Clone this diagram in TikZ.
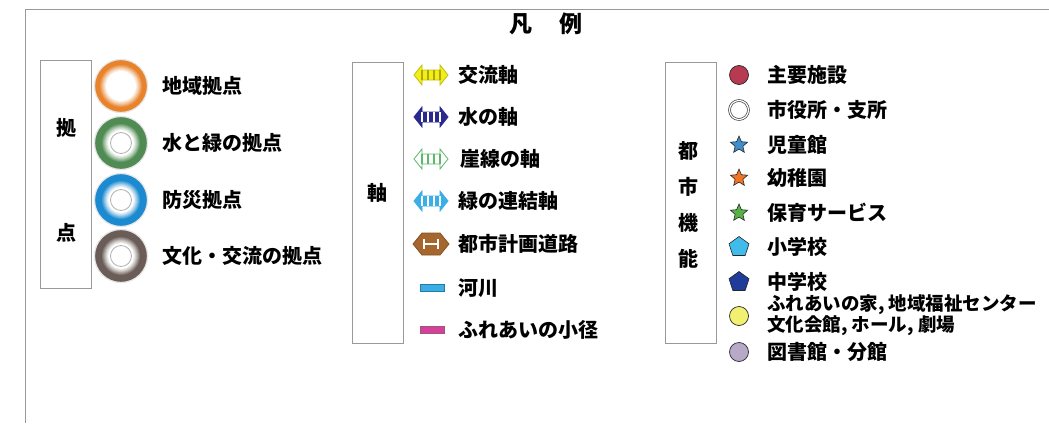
\documentclass[tikz,border=0pt]{standalone}
\usepackage{fontspec}
\newfontfamily\jp{Noto Sans CJK JP}
\usetikzlibrary{shapes.geometric}
\newcommand{\lblfont}{\jp\bfseries\fontsize{20}{22}\selectfont}
\newcommand{\smallfont}{\jp\bfseries\fontsize{18.5}{19}\selectfont}
\definecolor{ringorange}{HTML}{E8832C}
\definecolor{ringgreen}{HTML}{4F8B52}
\definecolor{ringblue}{HTML}{1C8AD0}
\definecolor{ringbrown}{HTML}{6A5C56}
\definecolor{axyellow}{HTML}{F2EE1A}
\definecolor{axnavy}{HTML}{2A2A8E}
\definecolor{axgreen}{HTML}{5CB86A}
\definecolor{axsky}{HTML}{3AAEE6}
\definecolor{axbrown}{HTML}{A5672E}
\definecolor{fnmaroon}{HTML}{B83A50}
\definecolor{fnblue}{HTML}{3C8ECC}
\definecolor{fnorange}{HTML}{F07424}
\definecolor{fngreen}{HTML}{56B444}
\definecolor{fncyan}{HTML}{40BCEA}
\definecolor{fnnavy}{HTML}{1F3C98}
\definecolor{fnyellow}{HTML}{F2F070}
\definecolor{fnlilac}{HTML}{B9A9C9}
\tikzset{legbox/.style = {draw=gray!80, fill=white, line width=0.8pt, minimum width=51pt, anchor=north west, inner sep=0}}
\tikzset{vchar/.style = {font=\lblfont, inner sep=0}}
\tikzset{lbl/.style = {font=\lblfont, anchor=west, inner sep=0}}
\tikzset{core/.style = {circle, draw=gray!60, fill=white, line width=0.8pt, minimum size=21pt, inner sep=0}}
\tikzset{bar/.style = {rectangle, fill=#1, draw=#1!70!black, line width=0.4pt, minimum width=24pt, minimum height=7pt, inner sep=0}}
\tikzset{dot/.style = {circle, fill=#1, draw=gray!30!black, line width=0.7pt, minimum size=19pt, inner sep=0}}
\tikzset{starmark/.style = {star, star points=5, star point ratio=2.2, fill=#1, draw=gray!30!black, line width=0.6pt, minimum size=18pt, inner sep=0}}
\tikzset{pentmark/.style = {regular polygon, regular polygon sides=5, fill=#1, draw=gray!30!black, line width=0.6pt, minimum size=21pt, inner sep=0}}
\tikzset{pics/hubring/.style 2 args = {code = {
    \draw[fill=#1, draw=gray!20, line width=1.2pt] (0,0) circle[radius=26.5];
    \foreach \d/\p in {8/85, 7/70, 6/55, 5/40, 4/27, 3/14}
        \fill[#1!\p!white] (0,0) circle[radius={#2+\d}];
    \fill[white] (0,0) circle[radius={#2+2}];
}}}
\tikzset{pics/axarrow/.style n args = {3}{code = {
    \draw[draw=#1, fill=#2, line width=0.8pt] (-17,0) -- (-9,-10) -- (-9,-5) -- (9,-5) -- (9,-10) -- (17,0)
         -- (9,10) -- (9,5) -- (-9,5) -- (-9,10) -- cycle;
    \foreach \s in {-9,-3,3,9}
        \draw[#3, line width=1.3pt] (\s,-5) -- (\s,5);
}}}

\begin{document}
\begin{tikzpicture}[x=1pt, y=-1pt]
    \useasboundingbox (0,0) rectangle (1049,423);

    % Frame and title
    \draw[gray!80, line width=1pt] (1049,9) -- (25,9) -- (25,423);
    \node[font=\jp\bfseries\fontsize{23}{23}\selectfont] (title1) at (521,24) {凡};
    \node[font=\jp\bfseries\fontsize{23}{23}\selectfont] (title2) at (571,24) {例};

    % Hubs
    \node[legbox, minimum height=228pt] (hubbox) at (40,60) {};
    \node[vchar] (hubc1) at (66,128) {拠};
    \node[vchar] (hubc2) at (66,233) {点};

    \pic (ring1) at (121,86) {hubring={ringorange}{13}};
    \pic (ring2) at (121,143) {hubring={ringgreen}{11}};
    \node[core] (core2) at (121,143) {};
    \pic (ring3) at (121,200) {hubring={ringblue}{11}};
    \node[core] (core3) at (121,200) {};
    \pic (ring4) at (121,256) {hubring={ringbrown}{11}};
    \node[core] (core4) at (121,256) {};

    \node[lbl] (hub1) at (162,86) {地域拠点};
    \node[lbl] (hub2) at (162,143) {水と緑の拠点};
    \node[lbl] (hub3) at (162,200) {防災拠点};
    \node[lbl] (hub4) at (162,256) {文化・交流の拠点};

    % Axes
    \node[legbox, minimum height=281pt] (axbox) at (352,62) {};
    \node[vchar] (axc) at (377,193) {軸};

    \pic at (431,75) {axarrow={axyellow!80!black}{axyellow}{olive!70!yellow}};
    \pic at (431,117) {axarrow={axnavy}{axnavy}{white}};
    \pic at (431,159) {axarrow={axgreen}{white}{axgreen}};
    \pic at (431,201) {axarrow={axsky}{axsky}{white}};
    \draw[draw=axbrown!80!black, fill=axbrown, line width=0.8pt]
        (413,244) -- (422,233) -- (440,233) -- (449,244) -- (440,255) -- (422,255) -- cycle;
    \draw[white, line width=2pt] (424,239) -- (424,249) (438,239) -- (438,249) (424,244) -- (438,244);
    \node[bar=axsky] (river) at (432,288) {};
    \node[bar=magenta!70!gray] (trail) at (432,330) {};

    \node[lbl] (ax1) at (458,75) {交流軸};
    \node[lbl] (ax2) at (458,117) {水の軸};
    \node[lbl] (ax3) at (460,159) {崖線の軸};
    \node[lbl] (ax4) at (458,201) {緑の連結軸};
    \node[lbl] (ax5) at (458,244) {都市計画道路};
    \node[lbl] (ax6) at (458,288) {河川};
    \node[lbl] (ax7) at (458,330) {ふれあいの小径};

    % Urban functions
    \node[legbox, minimum height=281pt] (fnbox) at (665,62) {};
    \node[vchar] (fnc1) at (688,151) {都};
    \node[vchar] (fnc2) at (688,187) {市};
    \node[vchar] (fnc3) at (688,223) {機};
    \node[vchar] (fnc4) at (688,259) {能};

    \node[dot=fnmaroon] (m1) at (739,75) {};
    \node[circle, draw=gray!50!black, line width=0.7pt, minimum size=19pt, inner sep=0,
          double=white, double distance=1.2pt] (m2) at (739,110) {};
    \node[starmark=fnblue] (m3) at (739,145) {};
    \node[starmark=fnorange] (m4) at (739,178) {};
    \node[starmark=fngreen] (m5) at (739,213) {};
    \node[pentmark=fncyan] (m6) at (739,247) {};
    \node[pentmark=fnnavy] (m7) at (739,282) {};
    \node[dot=fnyellow] (m8) at (739,316) {};
    \node[dot=fnlilac] (m9) at (739,352) {};

    \node[lbl] (fn1) at (767,75) {主要施設};
    \node[lbl] (fn2) at (767,110) {市役所・支所};
    \node[lbl] (fn3) at (767,145) {児童館};
    \node[lbl] (fn4) at (767,178) {幼稚園};
    \node[lbl] (fn5) at (767,213) {保育サービス};
    \node[lbl] (fn6) at (767,247) {小学校};
    \node[lbl] (fn7) at (767,282) {中学校};
    \node[font=\smallfont, anchor=west, align=left, inner sep=0] (fn8) at (767,315)
        {ふれあいの家, 地域福祉センター\\文化会館, ホール, 劇場};
    \node[lbl] (fn9) at (767,352) {図書館・分館};
\end{tikzpicture}
\end{document}
